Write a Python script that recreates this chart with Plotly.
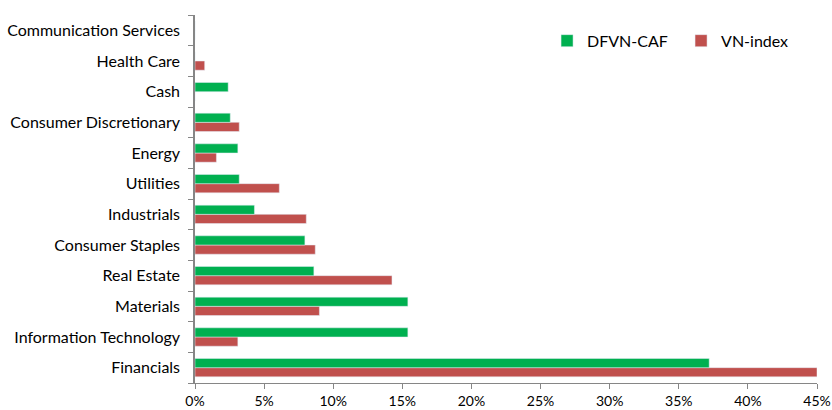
import plotly.graph_objects as go

categories = ["Financials", "Information Technology", "Materials", "Real Estate",
              "Consumer Staples", "Industrials", "Utilities", "Energy",
              "Consumer Discretionary", "Cash", "Health Care", "Communication Services"]
dfvn_caf = [37.2, 15.4, 15.4, 8.6, 7.95, 4.3, 3.2, 3.1, 2.55, 2.4, 0.0, 0.0]
vn_index = [45.0, 3.1, 9.0, 14.25, 8.7, 8.05, 6.1, 1.55, 3.2, 0.0, 0.7, 0.0]
x_ticks = [0, 5, 10, 15, 20, 25, 30, 35, 40, 45]
x_tick_labels = [f"{v}%" for v in x_ticks]

fig = go.Figure()
fig.add_trace(go.Bar(y=categories, x=vn_index, orientation="h", name="VN-index",
                     marker=dict(color="#C0504D"), legendrank=2))
fig.add_trace(go.Bar(y=categories, x=dfvn_caf, orientation="h", name="DFVN-CAF",
                     marker=dict(color="#00B050"), legendrank=1))

fig.update_layout(
    width=832, height=410,
    margin=dict(l=195, r=15, t=15, b=27, autoexpand=False),
    paper_bgcolor="white", plot_bgcolor="white",
    barmode="group", bargap=0.4, bargroupgap=0,
    font=dict(family="Lato", size=14, color="#000000"),
    legend=dict(orientation="h", x=0.566, y=0.93, xanchor="left", yanchor="middle",
                font=dict(size=16), bgcolor="rgba(0,0,0,0)", itemwidth=30,
                entrywidth=89, entrywidthmode="pixels",
                traceorder="normal"),
    showlegend=True,
)
fig.update_xaxes(range=[0, 45], tickvals=x_ticks, ticktext=x_tick_labels,
                 showgrid=False, zeroline=False, showline=True, linecolor="#868686",
                 ticks="outside", tickcolor="#868686", ticklen=5, fixedrange=True,
                 tickfont=dict(size=14), automargin=False)
fig.update_yaxes(showgrid=False, showline=True, linecolor="#868686", linewidth=1.5,
                 ticks="outside", tickson="boundaries", tickcolor="#868686", ticklen=5,
                 tickfont=dict(size=16), ticklabelstandoff=10, automargin=False,
                 fixedrange=True)

fig.write_html("out.html", config={"displayModeBar": False},
               post_script="document.body.style.margin='0px';document.body.style.overflow='hidden';")
